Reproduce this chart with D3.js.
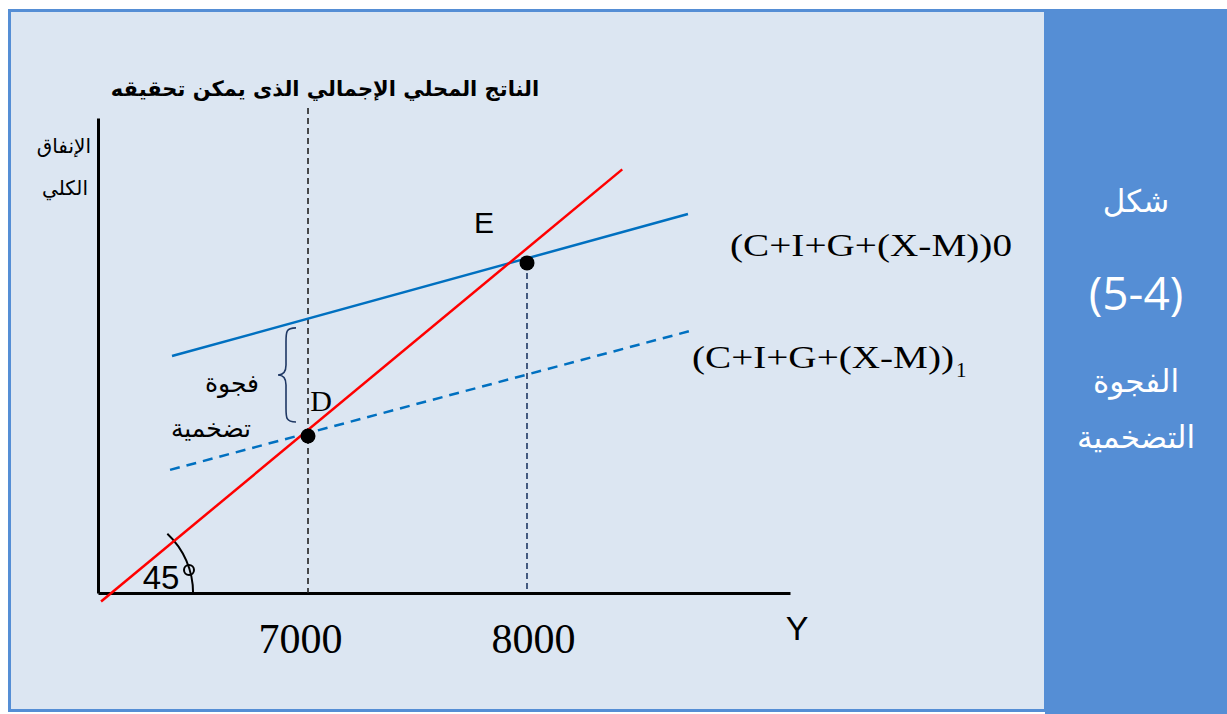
<!DOCTYPE html>
<html>
<head>
<meta charset="utf-8">
<script src="https://cdn.jsdelivr.net/npm/d3@7"></script>
<style>
  body { margin: 0; background: #fff; }
  svg { display: block; }
</style>
</head>
<body>
<svg id="canvas" width="1227" height="714"></svg>
<script>
// chart values (economic units: output Y on x-axis, aggregate expenditure on y-axis)
const xDomain = [6041, 9201]
const yDomain = [6102, 8718]
const xTicks = [7000, 8000]
const line45 = [[6055, 6055], [8435, 8435]]          // 45 degree line
const ae0 = [[6379, 7407], [8735, 8189]]             // (C+I+G+(X-M))0
const ae1 = [[6370, 6780], [8763, 7551]]             // (C+I+G+(X-M))1
const points = [
  {name: "D", x: 7000, y: 6967},
  {name: "E", x: 8000, y: 7920}
]
const potentialTop = 8773     // top of the dashed line at potential GDP
const gapRange = [7044, 7562] // brace for the inflationary gap
const titleText = "الناتج المحلي الإجمالي الذى يمكن تحقيقه"
const yLabel = ["الإنفاق", "الكلي"]
const sideText = ["شكل", "(5-4)", "الفجوة", "التضخمية"]

const svg = d3.select("#canvas")

// panels
svg.append("rect").attr("x", 1045).attr("y", 9).attr("width", 182).attr("height", 705).attr("fill", "#558ED5")
svg.append("rect").attr("x", 9.5).attr("y", 10.5).attr("width", 1036).attr("height", 700)
   .attr("fill", "#DCE6F2").attr("stroke", "#558ED5").attr("stroke-width", 3)

const x = d3.scaleLinear().domain(xDomain).range([98, 790])
const y = d3.scaleLinear().domain(yDomain).range([593, 118])

const g = svg.append("g")

// axes
const xAxis = g.append("g").attr("transform", `translate(0,${y(yDomain[0])})`)
  .call(d3.axisBottom(x).tickValues(xTicks).tickSize(0).tickPadding(30).tickFormat(d3.format("d")))
xAxis.select(".domain").attr("stroke", "#000").attr("stroke-width", 3)
xAxis.selectAll("text").attr("font-family", "Liberation Serif, serif").attr("font-size", 42).attr("fill", "#000")
  .attr("dx", (d, i) => i === 0 ? -8 : 6)

const yAxis = g.append("g").attr("transform", `translate(${x(xDomain[0])},0)`)
  .call(d3.axisLeft(y).tickValues([]).tickSize(0))
yAxis.select(".domain").attr("stroke", "#000").attr("stroke-width", 3)

const line = d3.line().x(d => x(d[0])).y(d => y(d[1]))

// dashed guides
g.append("line")
  .attr("x1", x(7000)).attr("x2", x(7000))
  .attr("y1", y(potentialTop)).attr("y2", y(yDomain[0]))
  .attr("stroke", "#222").attr("stroke-width", 1.6).attr("stroke-dasharray", "6,4")
g.append("line")
  .attr("x1", x(8000)).attr("x2", x(8000))
  .attr("y1", y(points[1].y)).attr("y2", y(yDomain[0]) - 4)
  .attr("stroke", "#1F3864").attr("stroke-width", 1.6).attr("stroke-dasharray", "6,4")

// 45 degree arc
const origin = [x(line45[0][0]) + 11, y(yDomain[0])]
const arc = d3.arc().innerRadius(81).outerRadius(81).startAngle(Math.PI / 2).endAngle(Math.PI / 2 - 0.82)
g.append("path").attr("transform", `translate(${origin[0]},${origin[1]})`)
  .attr("d", arc()).attr("fill", "none").attr("stroke", "#000").attr("stroke-width", 2)

// expenditure lines
g.append("path").attr("d", line(ae1)).attr("fill", "none")
  .attr("stroke", "#0070C0").attr("stroke-width", 2.5).attr("stroke-dasharray", "10,7")
g.append("path").attr("d", line(ae0)).attr("fill", "none")
  .attr("stroke", "#0070C0").attr("stroke-width", 2.5)
g.append("path").attr("d", line(line45)).attr("fill", "none")
  .attr("stroke", "#FF0000").attr("stroke-width", 2.5)

// equilibrium points
g.selectAll(".pt").data(points).enter().append("circle")
  .attr("class", "pt")
  .attr("cx", d => x(d.x)).attr("cy", d => y(d.y)).attr("r", 7.5).attr("fill", "#000")

// brace
const bx = 296, by0 = y(gapRange[1]), by1 = y(gapRange[0]), bm = (by0 + by1) / 2
g.append("path")
  .attr("d", `M${bx},${by0} C${bx - 10},${by0} ${bx - 10},${by0 + 4} ${bx - 10},${by0 + 14}
              L${bx - 10},${bm - 10} C${bx - 10},${bm - 2} ${bx - 14},${bm} ${bx - 18},${bm}
              C${bx - 14},${bm} ${bx - 10},${bm + 2} ${bx - 10},${bm + 10}
              L${bx - 10},${by1 - 14} C${bx - 10},${by1 - 4} ${bx - 10},${by1} ${bx},${by1}`)
  .attr("fill", "none").attr("stroke", "#1F3864").attr("stroke-width", 1.6)

// text labels
const txt = (t, px, py, o) => g.append("text").attr("x", px).attr("y", py).text(t)
  .attr("font-family", o.font || "DejaVu Sans, sans-serif")
  .attr("font-size", o.size).attr("font-weight", o.weight || "normal")
  .attr("text-anchor", o.anchor || "middle").attr("fill", o.fill || "#000")
  .attr("direction", o.dir || "ltr")

txt(titleText, 325, 96, {size: 21, weight: "bold", dir: "rtl"})
txt(yLabel[0], 91, 153, {size: 20, anchor: "end"})
txt(yLabel[1], 65, 195, {size: 20})
txt("E", 484, 233, {size: 30, font: "Liberation Sans, sans-serif"})
txt("D", 321, 411, {size: 30, font: "Liberation Serif, serif"})
txt("45", 161, 589, {size: 33, font: "Liberation Sans Narrow, Liberation Sans, sans-serif"})
g.append("circle").attr("cx", 189).attr("cy", 570).attr("r", 5).attr("fill", "none").attr("stroke", "#000").attr("stroke-width", 2)
txt("Y", 797, 640, {size: 34, font: "Liberation Sans, sans-serif"})
txt("فجوة", 232, 392, {size: 25})
txt("تضخمية", 211, 437, {size: 25})

txt("(C+I+G+(X-M))0", 730, 256, {size: 31, anchor: "start", font: "Liberation Serif, serif"})
  .attr("textLength", 282).attr("lengthAdjust", "spacingAndGlyphs")
const lab1 = txt("", 692, 368, {size: 31, anchor: "start", font: "Liberation Serif, serif"})
lab1.append("tspan").text("(C+I+G+(X-M))").attr("textLength", 262).attr("lengthAdjust", "spacingAndGlyphs")
lab1.append("tspan").attr("dy", 9).attr("dx", 2).attr("font-size", 21).text("1")

// side panel
const sideY = [212, 310, 392, 448]
const sideSize = [31, 46, 31, 31]
sideText.forEach((t, i) => txt(t, 1136, sideY[i], {size: sideSize[i], fill: "#fff", font: "Open Sans, DejaVu Sans, sans-serif"}))
</script>
</body>
</html>
